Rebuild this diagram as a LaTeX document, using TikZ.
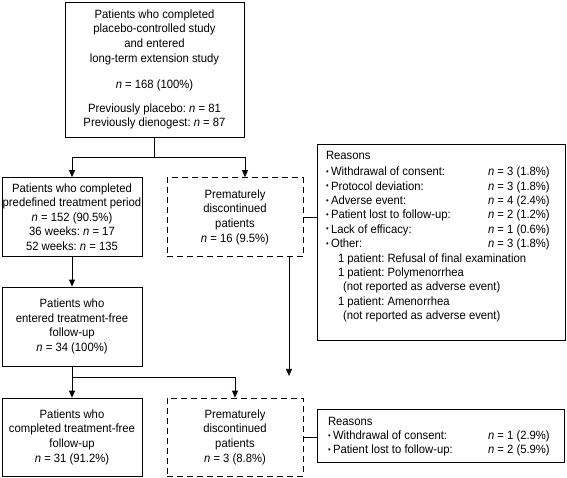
\documentclass[tikz,border=0pt]{standalone}
\usepackage{fontspec}
\setmainfont[FakeStretch=0.94]{Liberation Sans}
\usetikzlibrary{arrows.meta,calc}
\newcommand\fs{\fontsize{12pt}{14.6pt}\selectfont\frenchspacing}
\newcommand\bul{\raisebox{0.2ex}{\fontsize{8pt}{8pt}\selectfont •}\hspace{2.4pt}}
\newcommand\rrow[3]{\makebox[#1][l]{\bul #2}#3\\}
\newcommand\nn{\textit{n}}
\begin{document}
\begin{tikzpicture}[x=1pt,y=-1pt,
  box/.style={draw, line width=0.8pt, inner sep=0pt, align=center, font=\fs},
  dbox/.style={box, dash pattern=on 6pt off 4pt},
  conn/.style={line width=0.8pt},
  arr/.style={conn, -{Triangle[length=7pt,width=6pt]}},
  lbox/.style={draw, line width=0.8pt, inner sep=0pt, font=\fs}
]
\useasboundingbox (0,0) rectangle (567,477);
% boxes
\node[box, minimum width=179pt, minimum height=135pt] (top) at (154.5,69.5)
  {Patients who completed\\placebo-controlled study\\and entered\\long-term extension study\\[11.5pt]
   \nn{} = 168 (100\%)\\[9.5pt] Previously placebo: \nn{} = 81\\ Previously dienogest: \nn{} = 87};
\node[box, minimum width=140pt, minimum height=79pt] (b2) at (72,217)
  {Patients who completed\\predefined treatment period\\\nn{} = 152 (90.5\%)\\36 weeks: \nn{} = 17\\52 weeks: \nn{} = 135};
\node[dbox, minimum width=136pt, minimum height=79pt] (d1) at (235,217)
  {Prematurely\\discontinued\\patients\\\nn{} = 16 (9.5\%)};
\node[box, minimum width=140pt, minimum height=79pt] (b3) at (72,326.5)
  {Patients who\\entered treatment-free\\follow-up\\\nn{} = 34 (100\%)};
\node[box, minimum width=140pt, minimum height=78pt] (b4) at (72,437)
  {Patients who\\completed treatment-free\\follow-up\\\nn{} = 31 (91.2\%)};
\node[dbox, minimum width=136pt, minimum height=78pt] (d2) at (235,437)
  {Prematurely\\discontinued\\patients\\\nn{} = 3 (8.8\%)};
\node[lbox] (r1) at (441,242)
  {\begin{minipage}[c][196pt][t]{248pt}\fontsize{12pt}{14.4pt}\selectfont\frenchspacing
   \parindent=0pt\leftskip=9pt
   \vspace*{7.5pt}
   Reasons\\[1.5pt]
   \rrow{162pt}{Withdrawal of consent:}{\nn{} = 3 (1.8\%)}
   \rrow{162pt}{Protocol deviation:}{\nn{} = 3 (1.8\%)}
   \rrow{162pt}{Adverse event:}{\nn{} = 4 (2.4\%)}
   \rrow{162pt}{Patient lost to follow-up:}{\nn{} = 2 (1.2\%)}
   \rrow{162pt}{Lack of efficacy:}{\nn{} = 1 (0.6\%)}
   \rrow{162pt}{Other:}{\nn{} = 3 (1.8\%)}
   \hspace*{12pt}1 patient: Refusal of final examination\\
   \hspace*{12pt}1 patient: Polymenorrhea\\
   \hspace*{17pt}(not reported as adverse event)\\
   \hspace*{12pt}1 patient: Amenorrhea\\
   \hspace*{17pt}(not reported as adverse event)
   \end{minipage}};
\node[lbox] (r2) at (440.5,435.5)
  {\begin{minipage}[c][53pt][t]{247pt}\fontsize{12pt}{14pt}\selectfont\frenchspacing
   \parindent=0pt\leftskip=11pt
   \vspace*{8.5pt}
   Reasons\\
   \rrow{160pt}{Withdrawal of consent:}{\nn{} = 1 (2.9\%)}
   \makebox[160pt][l]{\bul Patient lost to follow-up:}\nn{} = 2 (5.9\%)
   \end{minipage}};
% connectors
\draw[conn] (top.south) -- ++(0,20) coordinate (j1);
\draw[arr] (j1) -| (b2.north);
\draw[arr] (j1) -| ($(d1.north)+(10,0)$);
\draw[arr] (b2.south) -- (b3.north);
\draw[conn] (d1.east) -- (d1.east -| r1.west);
\draw[arr] ($(d1.south)+(54,0)$) -- ++(0,119) coordinate (e1);
\draw[conn] (b3.south) -- ++(0,11) coordinate (j2);
\draw[arr] (j2) -- (b4.north);
\draw[arr] (j2) -| (d2.north);
\draw[conn] (d2.east) -- (d2.east -| r2.west);
\end{tikzpicture}
\end{document}
